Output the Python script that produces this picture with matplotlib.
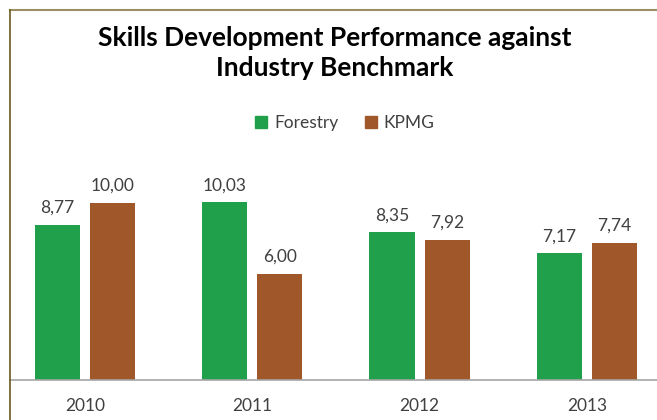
import numpy as np
import matplotlib.pyplot as plt
from matplotlib.lines import Line2D
from matplotlib.patches import Patch

years = ["2010", "2011", "2012", "2013"]
forestry = [8.77, 10.03, 8.35, 7.17]
kpmg = [10.00, 6.00, 7.92, 7.74]

green = "#21A04B"
brown = "#A0582A"
txt = "#404040"

plt.rcParams["font.family"] = ["Lato", "DejaVu Sans"]

fig = plt.figure(figsize=(6.57, 4.2), dpi=100)
ax = fig.add_axes([10 / 657, 40 / 420, 647 / 657, 370 / 420])

x = np.arange(len(years))
w = 0.27
off = 0.165
b1 = ax.bar(x - off, forestry, w, color=green, label="Forestry")
b2 = ax.bar(x + off, kpmg, w, color=brown, label="KPMG")

for bars, vals in ((b1, forestry), (b2, kpmg)):
    for r, v in zip(bars, vals):
        ax.text(r.get_x() + r.get_width() / 2, v + 0.5, f"{v:.2f}".replace(".", ","),
                ha="center", va="bottom", fontsize=12.5, color=txt)

ax.set_xlim(-0.448, 3.419)
ax.set_ylim(0, 20.9)
ax.set_xticks(x)
ax.set_xticklabels(years, fontsize=12.5, color=txt)
ax.tick_params(axis="x", length=0, pad=13)
ax.set_yticks([])
for s in ("top", "right", "left"):
    ax.spines[s].set_visible(False)
ax.spines["bottom"].set_color("#A6A6A6")
ax.spines["bottom"].set_linewidth(1.2)

# chart frame (cropped)
fig.add_artist(Line2D([10 / 657, 1], [1 - 10 / 420, 1 - 10 / 420], color="#9C8E62", lw=1.5))
fig.add_artist(Line2D([10 / 657, 10 / 657], [0, 1 - 10 / 420], color="#6B5A1E", lw=1.2))

fig.text(335 / 657, 1 - 53 / 420, "Skills Development Performance against\nIndustry Benchmark",
         ha="center", va="center", fontsize=19, fontweight="bold", color="black", linespacing=1.35)

handles = [Patch(color=green, label="Forestry"), Patch(color=brown, label="KPMG")]
fig.legend(handles=handles, loc="center", bbox_to_anchor=(345 / 657, 1 - 123 / 420), ncol=2,
           frameon=False, fontsize=12.5, handlelength=0.7, handleheight=0.7,
           handletextpad=0.4, columnspacing=1.5, labelcolor=txt)

fig.savefig("out.png", dpi=100)
